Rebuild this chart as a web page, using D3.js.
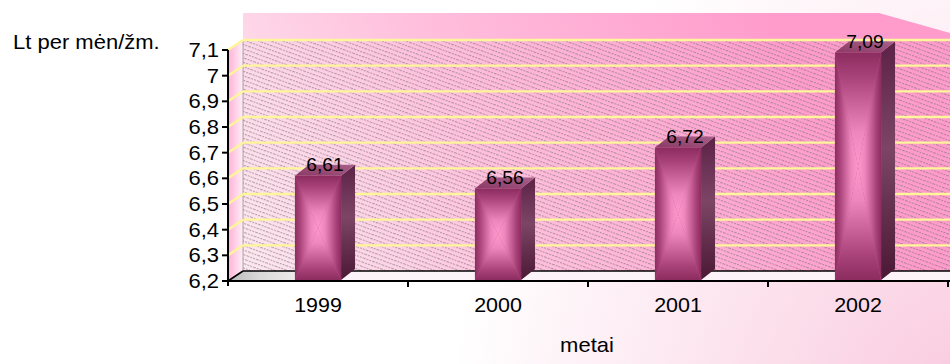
<!DOCTYPE html>
<html>
<head>
<meta charset="utf-8">
<script src="https://cdn.jsdelivr.net/npm/d3@7"></script>
<style>
  html, body { margin: 0; padding: 0; background: #fff; }
  svg { display: block; font-family: "Liberation Sans", Arial, sans-serif; }
</style>
</head>
<body>
<svg id="chart" width="950" height="364"></svg>
<script>
// Average wage, Lt per month per person, by year
const years = ["1999", "2000", "2001", "2002"];
const wages = [6.61, 6.56, 6.72, 7.09];
const yTicks = [6.2, 6.3, 6.4, 6.5, 6.6, 6.7, 6.8, 6.9, 7.0, 7.1];
const yTitle = "Lt per mėn/žm.";
const xTitle = "metai";

// Lithuanian number style: decimal comma
const lt = d3.formatLocale({ decimal: ",", thousands: " ", grouping: [3], currency: ["", " Lt"] });
const fmtTick = lt.format(".1~f");
const fmtValue = lt.format(".2f");

// Layout
const W = 950, H = 364;
const plotL = 228, plotR = 948, plotB = 281, plotT = 50;
const wallDx = 15, wallDy = -10;     // depth of the walls / floor
const barDx = 14, barDy = -11;       // depth of each bar
const wallTop = 13;                  // top edge of the back wall
const sx = 1.1;                      // horizontal text stretch

const svg = d3.select("#chart");
const defs = svg.append("defs");

// ---------- gradients & patterns ----------
function linGrad(id, x1, y1, x2, y2, stops, units) {
  const g = defs.append("linearGradient").attr("id", id)
    .attr("x1", x1).attr("y1", y1).attr("x2", x2).attr("y2", y2);
  if (units) g.attr("gradientUnits", units);
  stops.forEach(([o, c]) => g.append("stop").attr("offset", o).attr("stop-color", c));
  return g;
}

// chart area background: white fading to pink at lower right
const bg = defs.append("radialGradient").attr("id", "bgGrad")
  .attr("gradientUnits", "userSpaceOnUse")
  .attr("cx", W + 40).attr("cy", H + 60).attr("r", 540);
bg.append("stop").attr("offset", 0).attr("stop-color", "#f9c6dd");
bg.append("stop").attr("offset", 0.45).attr("stop-color", "#fce0ec");
bg.append("stop").attr("offset", 1).attr("stop-color", "#ffffff");

// back wall: light at lower left, saturated pink at upper right
linGrad("wallGrad", 243, 271, 760, 0, [
  [0, "#fde8f1"], [0.45, "#ffc0dd"], [1, "#ff9ccc"]
], "userSpaceOnUse");

// side wall
linGrad("sideWallGrad", 0, 0, 1, 0, [[0, "#ffb0d7"], [1, "#fff0f6"]]);

// floor shadow at the left
linGrad("floorGrad", plotL, plotB, plotL + 90, plotB - 10, [
  [0, "#b8b8b8"], [0.35, "#d9d9d9"], [1, "#fbf3f7"]
], "userSpaceOnUse");

// bar front face: rectangular "pillow" gradient built from four triangles
const edge = "#8c2c5f", mid = "#c4538d", centre = "#ff98cc";
const faceStops = [[0, edge], [0.22, "#a9437a"], [0.7, "#ec86bd"], [1, centre]];
linGrad("faceL", 0, 0, 1, 0, faceStops);
linGrad("faceR", 1, 0, 0, 0, faceStops);
linGrad("faceT", 0, 0, 0, 1, faceStops);
linGrad("faceB", 0, 1, 0, 0, faceStops);
linGrad("sideGrad", 0, 0, 0, 1, [[0, "#5c2247"], [0.45, "#7c4565"], [1, "#4a1834"]]);
linGrad("topGrad", 0, 1, 1, 0, [[0, "#8a3964"], [1, "#a8608a"]]);

// diagonal hatch on the back wall
const hatch = defs.append("pattern").attr("id", "hatch")
  .attr("patternUnits", "userSpaceOnUse")
  .attr("width", 10).attr("height", 4.2)
  .attr("patternTransform", "rotate(20)");
hatch.append("line").attr("x1", 0).attr("x2", 10).attr("y1", 0.6).attr("y2", 0.6)
  .attr("stroke", "#6f6f6f").attr("stroke-width", 0.75)
  .attr("stroke-opacity", 0.85).attr("stroke-dasharray", "2 1");

// ---------- scales ----------
const y = d3.scaleLinear().domain([yTicks[0], yTicks[yTicks.length - 1]]).range([plotB, plotT]);
const xCat = d3.scaleBand().domain(years).range([plotL, plotR]).padding(0);
const xBar = d3.scaleBand().domain(years).range([plotL, plotR])
  .paddingInner(0.744).paddingOuter(0.372);

// ---------- background ----------
svg.append("rect").attr("width", W).attr("height", H).attr("fill", "url(#bgGrad)");

// ---------- walls & floor ----------
const backL = plotL + wallDx, backB = plotB + wallDy;
const backTopGrid = y(yTicks[yTicks.length - 1]) + wallDy;

svg.append("polygon")
  .attr("points", [[backL, wallTop], [879, wallTop], [W, 33], [W, backB], [backL, backB]].join(" "))
  .attr("fill", "url(#wallGrad)");

svg.append("rect")
  .attr("x", backL).attr("y", backTopGrid)
  .attr("width", W - backL).attr("height", backB - backTopGrid)
  .attr("fill", "url(#hatch)");

svg.append("polygon")
  .attr("points", [[plotL, y(yTicks[yTicks.length - 1])], [backL, backTopGrid], [backL, backB], [plotL, plotB]].join(" "))
  .attr("fill", "url(#sideWallGrad)");

svg.append("line")
  .attr("x1", backL).attr("x2", backL).attr("y1", backTopGrid).attr("y2", backB)
  .attr("stroke", "#9a8a92").attr("stroke-width", 0.8);

svg.append("polygon")
  .attr("points", [[plotL, plotB], [backL, backB], [W, backB], [W, plotB]].join(" "))
  .attr("fill", "url(#floorGrad)");

// gridlines: along the back wall and across the side wall
const grid = svg.append("g").attr("stroke", "#fff59a").attr("stroke-width", 2.4).attr("fill", "none");
yTicks.slice(1).forEach(v => {
  grid.append("line").attr("x1", backL).attr("x2", W)
    .attr("y1", y(v) + wallDy).attr("y2", y(v) + wallDy);
  grid.append("line").attr("x1", plotL).attr("x2", backL)
    .attr("y1", y(v)).attr("y2", y(v) + wallDy);
});

// floor edges
svg.append("line").attr("x1", backL).attr("x2", W).attr("y1", backB).attr("y2", backB)
  .attr("stroke", "#000").attr("stroke-width", 1.6);
svg.append("line").attr("x1", plotL).attr("x2", backL).attr("y1", plotB).attr("y2", backB)
  .attr("stroke", "#000").attr("stroke-width", 1.6);

// ---------- bars ----------
const bars = svg.append("g").selectAll("g").data(years.map((yr, i) => ({ yr, v: wages[i] })))
  .join("g");

bars.each(function (d) {
  const g = d3.select(this);
  const x0 = xBar(d.yr), x1 = x0 + xBar.bandwidth();
  const yt = y(d.v), yb = y(yTicks[0]) - 1;
  const cx = (x0 + x1) / 2, cy = (yt + yb) / 2;
  // side
  g.append("polygon")
    .attr("points", [[x1, yb], [x1 + barDx, yb + barDy], [x1 + barDx, yt + barDy], [x1, yt]].join(" "))
    .attr("fill", "url(#sideGrad)");
  // top
  g.append("polygon")
    .attr("points", [[x0, yt], [x0 + barDx, yt + barDy], [x1 + barDx, yt + barDy], [x1, yt]].join(" "))
    .attr("fill", "url(#topGrad)");
  // front
  g.append("rect").attr("x", x0).attr("y", yt).attr("width", x1 - x0).attr("height", yb - yt)
    .attr("fill", mid);
  g.append("polygon").attr("points", [[x0, yt], [cx, cy], [x0, yb]].join(" ")).attr("fill", "url(#faceL)");
  g.append("polygon").attr("points", [[x1, yt], [cx, cy], [x1, yb]].join(" ")).attr("fill", "url(#faceR)");
  g.append("polygon").attr("points", [[x0, yt], [x1, yt], [cx, cy]].join(" ")).attr("fill", "url(#faceT)");
  g.append("polygon").attr("points", [[x0, yb], [x1, yb], [cx, cy]].join(" ")).attr("fill", "url(#faceB)");
});

// ---------- axes ----------
const yAxis = svg.append("g");
yAxis.append("line").attr("x1", plotL).attr("x2", plotL).attr("y1", y(yTicks[yTicks.length - 1])).attr("y2", plotB + 5)
  .attr("stroke", "#000").attr("stroke-width", 2);
yTicks.forEach(v => {
  yAxis.append("line").attr("x1", plotL - 6).attr("x2", plotL).attr("y1", y(v)).attr("y2", y(v))
    .attr("stroke", "#000").attr("stroke-width", 2);
  yAxis.append("text")
    .attr("transform", `translate(${plotL - 9},${y(v) + 7}) scale(${sx},1)`)
    .attr("text-anchor", "end").attr("font-size", 20).attr("fill", "#000")
    .text(fmtTick(v));
});

const xAxis = svg.append("g");
xAxis.append("line").attr("x1", plotL).attr("x2", plotR + 2).attr("y1", plotB).attr("y2", plotB)
  .attr("stroke", "#000").attr("stroke-width", 2);
years.forEach(yr => {
  const xe = xCat(yr) + xCat.bandwidth();
  xAxis.append("line").attr("x1", xe).attr("x2", xe).attr("y1", plotB).attr("y2", plotB + 6)
    .attr("stroke", "#000").attr("stroke-width", 2);
  xAxis.append("text")
    .attr("transform", `translate(${xCat(yr) + xCat.bandwidth() / 2},${plotB + 31}) scale(${sx},1)`)
    .attr("text-anchor", "middle").attr("font-size", 19.5).attr("fill", "#000")
    .text(yr);
});

// ---------- value labels ----------
bars.append("text")
  .attr("transform", d => `translate(${xBar(d.yr) + xBar.bandwidth() / 2 + barDx / 2},${y(d.v) - 5}) scale(${sx},1)`)
  .attr("text-anchor", "middle").attr("font-size", 17.5).attr("fill", "#000")
  .text(d => fmtValue(d.v));

// ---------- titles ----------
svg.append("text")
  .attr("transform", `translate(13,49) scale(${sx},1)`)
  .attr("font-size", 20).attr("fill", "#000").text(yTitle);
svg.append("text")
  .attr("transform", `translate(587,352) scale(${sx},1)`)
  .attr("text-anchor", "middle").attr("font-size", 20).attr("fill", "#000").text(xTitle);
</script>
</body>
</html>
